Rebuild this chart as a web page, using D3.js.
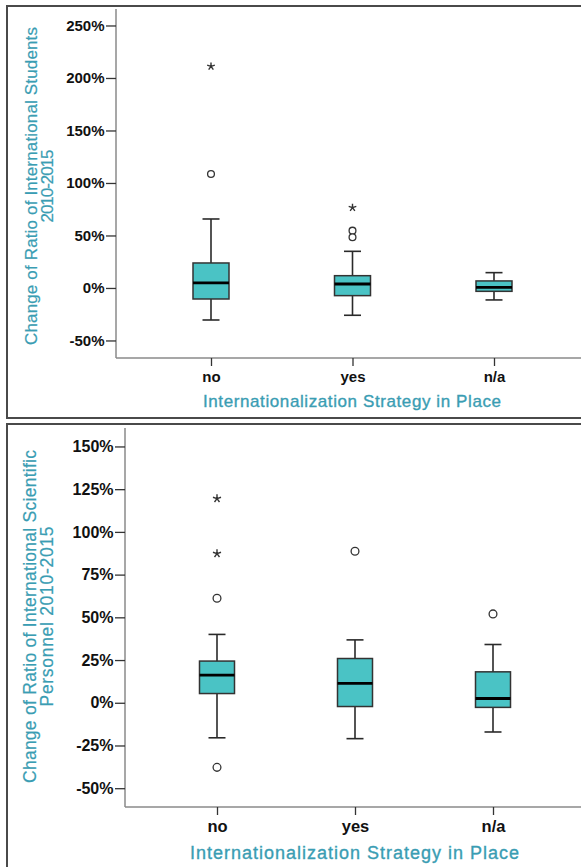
<!DOCTYPE html>
<html>
<head>
<meta charset="utf-8">
<script src="https://cdn.jsdelivr.net/npm/d3@7"></script>
<style>
  html, body { margin: 0; padding: 0; background: #fff; }
  svg { display: block; }
  text { font-family: "Liberation Sans", Arial, sans-serif; }
</style>
</head>
<body>
<svg id="chart" width="581" height="867"></svg>
<script>
// Groups on the x axis
const categories = ["no", "yes", "n/a"];

// Change of ratio of international students, 2010-2015 (%)
const studentsLow    = [-30.5, -26.0, -11.4];
const studentsQ1     = [-10.5,  -7.3,  -3.2];
const studentsMedian = [  4.8,   3.8,   0.6];
const studentsQ3     = [ 23.8,  11.7,   6.7];
const studentsHigh   = [ 65.7,  34.9,  14.6];
const studentsOutliers = [["no", 108.6], ["yes", 54.6], ["yes", 48.3]];
const studentsExtremes = [["no", 211.0], ["yes", 76.5]];
const studentsTicks = [-50, 0, 50, 100, 150, 200, 250];

// Change of ratio of international scientific personnel, 2010-2015 (%)
const personnelLow    = [-20.5, -21.0, -17.1];
const personnelQ1     = [  5.4,  -2.2,  -2.7];
const personnelMedian = [ 16.2,  11.3,   2.5];
const personnelQ3     = [ 24.4,  25.9,  18.1];
const personnelHigh   = [ 40.0,  36.8,  34.1];
const personnelOutliers = [["no", 61.2], ["no", -37.8], ["yes", 88.7], ["n/a", 52.0]];
const personnelExtremes = [["no", 119.5], ["no", 87.3]];
const personnelTicks = [-50, -25, 0, 25, 50, 75, 100, 125, 150];

const teal = "#3a9db3";
const boxFill = "#4ac3c5";
const dark = "#2a2a2a";

const svg = d3.select("#chart");

// five-spoke asterisk used for extreme values
const asterisk = {
  draw(ctx, size) {
    const r = Math.sqrt(size) / 2;
    for (let i = 0; i < 5; i++) {
      const a = (i * 2 * Math.PI) / 5;
      ctx.moveTo(0, 0);
      ctx.lineTo(r * Math.sin(a), -r * Math.cos(a));
    }
  }
};

function drawPanel(cfg) {
  const g = svg.append("g");

  // panel frame
  g.append("rect")
    .attr("x", cfg.frame[0]).attr("y", cfg.frame[1])
    .attr("width", cfg.frame[2]).attr("height", cfg.frame[3])
    .attr("fill", "none").attr("stroke", "#4a4a4a").attr("stroke-width", 2);

  const y = d3.scaleLinear().domain(cfg.yDomain).range([cfg.bottom, cfg.top]);
  const x = d3.scalePoint().domain(categories).range(cfg.xRange);

  // axis lines
  g.append("line")
    .attr("x1", cfg.left).attr("x2", cfg.left)
    .attr("y1", cfg.top).attr("y2", cfg.bottom)
    .attr("stroke", "#8a8a8a").attr("stroke-width", 1.5);
  g.append("line")
    .attr("x1", cfg.left).attr("x2", 600)
    .attr("y1", cfg.bottom).attr("y2", cfg.bottom)
    .attr("stroke", "#8a8a8a").attr("stroke-width", 1.5);

  // y axis
  const yAxis = g.append("g")
    .attr("transform", `translate(${cfg.left},0)`)
    .call(d3.axisLeft(y).tickValues(cfg.ticks).tickSize(10).tickPadding(1.5)
      .tickFormat(d => d + "%"));
  yAxis.select(".domain").remove();
  yAxis.selectAll(".tick line").attr("stroke", "#333").attr("stroke-width", 1.3);
  yAxis.selectAll(".tick text")
    .attr("font-family", "Liberation Sans, Arial, sans-serif")
    .attr("font-size", cfg.tickFont).attr("font-weight", "bold")
    .attr("fill", "#111");

  // x axis
  const xAxis = g.append("g")
    .attr("transform", `translate(0,${cfg.bottom})`)
    .call(d3.axisBottom(x).tickSize(8).tickPadding(cfg.catPad));
  xAxis.select(".domain").remove();
  xAxis.selectAll(".tick line").attr("stroke", "#333").attr("stroke-width", 1.3);
  xAxis.selectAll(".tick text")
    .attr("font-family", "Liberation Sans, Arial, sans-serif")
    .attr("font-size", cfg.catFont).attr("font-weight", "bold")
    .attr("fill", "#111");

  // axis titles
  g.append("text")
    .attr("x", cfg.xTitle[0]).attr("y", cfg.xTitle[1])
    .attr("text-anchor", "middle")
    .attr("font-size", cfg.xTitleFont)
    .attr("fill", teal).attr("stroke", teal).attr("stroke-width", 0.35)
    .attr("textLength", cfg.xTitleLen).attr("lengthAdjust", "spacing")
    .text("Internationalization Strategy in Place");

  cfg.yTitle.forEach(line => {
    g.append("text")
      .attr("transform", `translate(${line.x},${cfg.yTitleCenter}) rotate(-90)`)
      .attr("text-anchor", "middle")
      .attr("font-size", cfg.yTitleFont)
      .attr("fill", teal).attr("stroke", teal).attr("stroke-width", 0.2)
      .attr("textLength", line.len).attr("lengthAdjust", "spacing")
      .text(line.text);
  });

  // boxes
  const stats = categories.map((c, i) => ({
    c, lo: cfg.low[i], q1: cfg.q1[i], med: cfg.median[i], q3: cfg.q3[i], hi: cfg.high[i]
  }));
  const bw = cfg.boxWidth, cw = cfg.capWidth;
  const boxes = g.selectAll("g.box").data(stats).join("g").attr("class", "box");

  boxes.append("line") // whisker stem
    .attr("x1", d => x(d.c)).attr("x2", d => x(d.c))
    .attr("y1", d => y(d.lo)).attr("y2", d => y(d.hi))
    .attr("stroke", dark).attr("stroke-width", 1.6);
  boxes.append("line") // upper cap
    .attr("x1", d => x(d.c) - cw / 2).attr("x2", d => x(d.c) + cw / 2)
    .attr("y1", d => y(d.hi)).attr("y2", d => y(d.hi))
    .attr("stroke", dark).attr("stroke-width", 1.6);
  boxes.append("line") // lower cap
    .attr("x1", d => x(d.c) - cw / 2).attr("x2", d => x(d.c) + cw / 2)
    .attr("y1", d => y(d.lo)).attr("y2", d => y(d.lo))
    .attr("stroke", dark).attr("stroke-width", 1.6);
  boxes.append("rect")
    .attr("x", d => x(d.c) - bw / 2).attr("width", bw)
    .attr("y", d => y(d.q3)).attr("height", d => y(d.q1) - y(d.q3))
    .attr("fill", boxFill).attr("stroke", "#333").attr("stroke-width", 1.5);
  boxes.append("line") // median
    .attr("x1", d => x(d.c) - bw / 2).attr("x2", d => x(d.c) + bw / 2)
    .attr("y1", d => y(d.med)).attr("y2", d => y(d.med))
    .attr("stroke", "#000").attr("stroke-width", 2.8);

  // outliers
  g.selectAll("circle.out").data(cfg.outliers).join("circle")
    .attr("class", "out")
    .attr("cx", d => x(d[0])).attr("cy", d => y(d[1]))
    .attr("r", cfg.circleR)
    .attr("fill", "#fff").attr("stroke", "#333").attr("stroke-width", 1.3);

  // extremes
  g.selectAll("path.ext").data(cfg.extremes).join("path")
    .attr("class", "ext")
    .attr("transform", d => `translate(${x(d[0])},${y(d[1])})`)
    .attr("d", d3.symbol().type(asterisk).size(cfg.starSize))
    .attr("fill", "none").attr("stroke", "#333").attr("stroke-width", 1.4);
}

drawPanel({
  frame: [7, 6, 700, 412],
  top: 9, bottom: 358, left: 116,
  yDomain: [-66.7, 265.7],
  xRange: [211, 494],
  ticks: studentsTicks,
  tickFont: 15,
  catFont: 15, catPad: 5,
  xTitle: [352, 406.5], xTitleFont: 17, xTitleLen: 298,
  yTitleFont: 17, yTitleCenter: 186,
  yTitle: [
    { text: "Change of Ratio of International Students", x: 37, len: 318 },
    { text: "2010-2015", x: 52.5, len: 73 }
  ],
  low: studentsLow, q1: studentsQ1, median: studentsMedian, q3: studentsQ3, high: studentsHigh,
  outliers: studentsOutliers, extremes: studentsExtremes,
  boxWidth: 36, capWidth: 17, circleR: 3.4, starSize: 64
});

drawPanel({
  frame: [7, 424, 700, 500],
  top: 428, bottom: 807, left: 125,
  yDomain: [-61.0, 160.8],
  xRange: [217, 493],
  ticks: personnelTicks,
  tickFont: 16,
  catFont: 16.5, catPad: 5,
  xTitle: [354.5, 859], xTitleFont: 18, xTitleLen: 329,
  yTitleFont: 17.5, yTitleCenter: 616.5,
  yTitle: [
    { text: "Change of Ratio of International Scientific", x: 35.5, len: 333 },
    { text: "Personnel 2010-2015", x: 52.5, len: 180 }
  ],
  low: personnelLow, q1: personnelQ1, median: personnelMedian, q3: personnelQ3, high: personnelHigh,
  outliers: personnelOutliers, extremes: personnelExtremes,
  boxWidth: 35, capWidth: 17, circleR: 3.9, starSize: 72
});
</script>
</body>
</html>
